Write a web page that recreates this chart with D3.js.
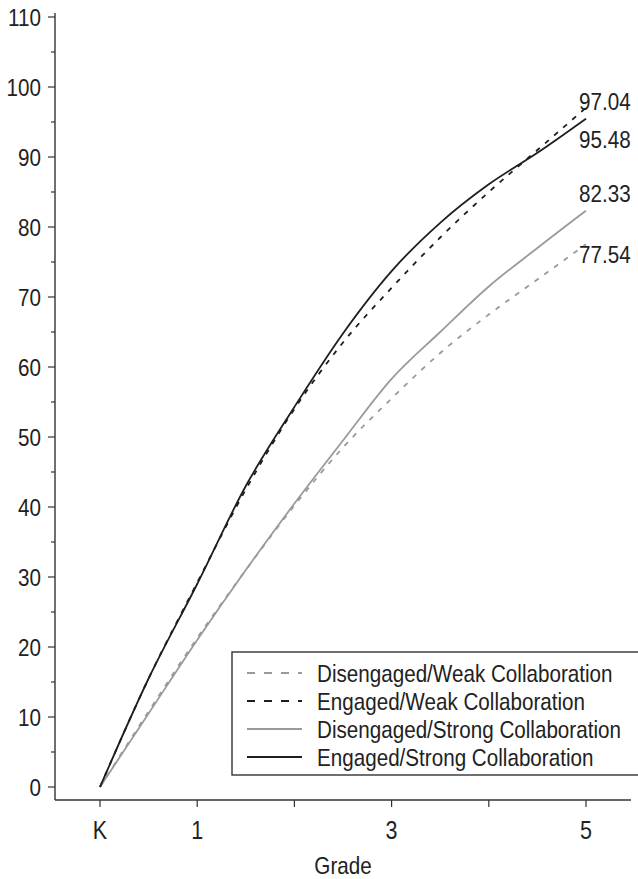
<!DOCTYPE html>
<html>
<head>
<meta charset="utf-8">
<script src="https://cdn.jsdelivr.net/npm/d3@7"></script>
<style>
  html, body { margin: 0; padding: 0; background: #fff; }
  svg text { font-family: "Liberation Sans", Arial, sans-serif; fill: #222; }
</style>
</head>
<body>
<svg id="chart" width="638" height="879"></svg>
<script>
// ---- data ----
const grades = [0, 0.5, 1, 1.5, 2, 2.5, 3, 3.5, 4, 4.5, 5];
const gradeTicks = [0, 1, 2, 3, 4, 5];
const gradeLabels = {0: "K", 1: "1", 3: "3", 5: "5"};
const yTicks = [0, 10, 20, 30, 40, 50, 60, 70, 80, 90, 100, 110];
const disengagedWeak   = [0, 10.8, 21.3, 31.0, 40.2, 48.5, 55.5, 62.0, 67.5, 72.5, 77.54];
const engagedWeak      = [0, 15.5, 29.2, 42.5, 54.0, 63.5, 71.3, 78.5, 85.0, 91.0, 97.04];
const disengagedStrong = [0, 10.5, 21.0, 31.0, 40.5, 49.5, 58.3, 65.0, 71.5, 77.0, 82.33];
const engagedStrong    = [0, 15.5, 29.0, 43.0, 54.3, 64.8, 73.7, 80.6, 86.1, 90.6, 95.48];
const seriesNames = ["Disengaged/Weak Collaboration", "Engaged/Weak Collaboration",
                     "Disengaged/Strong Collaboration", "Engaged/Strong Collaboration"];
const endLabels = ["77.54", "97.04", "82.33", "95.48"];

// ---- styles ----
const styles = [
  {color: "#9a9a9a", dash: "5,7", legDash: "8,9"},
  {color: "#1e1e1e", dash: "5,7", legDash: "8,9"},
  {color: "#9a9a9a", dash: null, legDash: null},
  {color: "#1e1e1e", dash: null, legDash: null}
];
const series = [disengagedWeak, engagedWeak, disengagedStrong, engagedStrong];

const svg = d3.select("#chart");
const x = d3.scaleLinear().domain([0, 5]).range([100, 586]);
const y = d3.scaleLinear().domain([0, 110]).range([787, 17]);
const axisX0 = 55, axisY0 = 800;
const axisColor = "#333";
const fs = 24;
const squeeze = 0.86;

function addText(g, tx, ty, str, anchor, size) {
  return g.append("text")
    .attr("transform", `translate(${tx},${ty}) scale(${squeeze},1)`)
    .attr("text-anchor", anchor || "start")
    .attr("font-size", size || fs)
    .text(str);
}

// y axis
const yAxisG = svg.append("g");
yAxisG.append("line").attr("x1", axisX0).attr("x2", axisX0).attr("y1", 13).attr("y2", axisY0)
  .attr("stroke", axisColor).attr("stroke-width", 1.4);
d3.range(0, 111, 5).forEach(v => {
  const major = v % 10 === 0;
  yAxisG.append("line").attr("x1", axisX0 - (major ? 7 : 4)).attr("x2", axisX0)
    .attr("y1", y(v)).attr("y2", y(v)).attr("stroke", axisColor).attr("stroke-width", 1.2);
});
yTicks.forEach(v => addText(yAxisG, 41, y(v) + 8.5, String(v), "end"));

// x axis
const xAxisG = svg.append("g");
xAxisG.append("line").attr("x1", axisX0).attr("x2", 631).attr("y1", axisY0).attr("y2", axisY0)
  .attr("stroke", axisColor).attr("stroke-width", 1.4);
gradeTicks.forEach(g => {
  xAxisG.append("line").attr("x1", x(g)).attr("x2", x(g)).attr("y1", axisY0).attr("y2", axisY0 + 7)
    .attr("stroke", axisColor).attr("stroke-width", 1.2);
  if (gradeLabels[g] !== undefined) addText(xAxisG, x(g), 839, gradeLabels[g], "middle", fs + 1);
});
addText(svg, 343, 874, "Grade", "middle");

// lines
const line = d3.line().x((d, i) => x(grades[i])).y(d => y(d)).curve(d3.curveMonotoneX);
series.forEach((s, k) => {
  svg.append("path").datum(s).attr("d", line).attr("fill", "none")
    .attr("stroke", styles[k].color).attr("stroke-width", 1.8)
    .attr("stroke-dasharray", styles[k].dash);
});

// end labels
const labelBase = [263, 110, 202, 148];
endLabels.forEach((t, k) => addText(svg, 579, labelBase[k], t, "start"));

// legend
const lg = svg.append("g");
lg.append("rect").attr("x", 232).attr("y", 652).attr("width", 420).attr("height", 123)
  .attr("fill", "#fff").attr("stroke", axisColor).attr("stroke-width", 1.4);
seriesNames.forEach((name, k) => {
  const ry = 673 + k * 28;
  lg.append("line").attr("x1", 247).attr("x2", 302).attr("y1", ry).attr("y2", ry)
    .attr("stroke", styles[k].color).attr("stroke-width", 1.8)
    .attr("stroke-dasharray", styles[k].legDash);
  addText(lg, 317, ry + 9, name, "start");
});
</script>
</body>
</html>
